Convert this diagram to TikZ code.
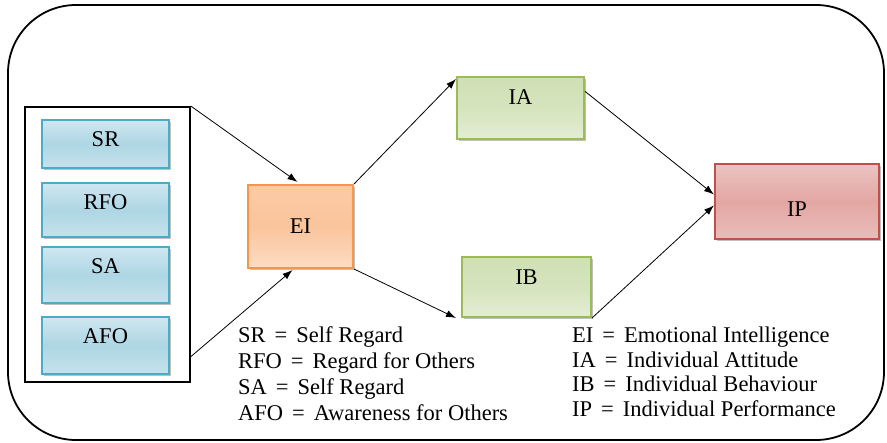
\documentclass[tikz,border=0pt]{standalone}
\usepackage{fontspec}
\setmainfont{Liberation Serif}
\usetikzlibrary{arrows.meta,calc,shadows}

\definecolor{blueEdge}{HTML}{4BACC6}
\definecolor{blueTop}{HTML}{CFE7F0}
\definecolor{blueMid}{HTML}{AED6E4}
\definecolor{blueBot}{HTML}{C6E2EC}
\definecolor{orangeEdge}{HTML}{F79646}
\definecolor{orangeTop}{HTML}{FBCBA6}
\definecolor{orangeMid}{HTML}{FAC49C}
\definecolor{orangeBot}{HTML}{FCDCC4}
\definecolor{greenEdge}{HTML}{9BBB59}
\definecolor{greenTop}{HTML}{D0E0B4}
\definecolor{greenMid}{HTML}{D5E4BD}
\definecolor{greenBot}{HTML}{E3EDD4}
\definecolor{redEdge}{HTML}{C0504D}
\definecolor{redTop}{HTML}{EAC4C2}
\definecolor{redMid}{HTML}{E3A7A3}
\definecolor{redBot}{HTML}{E9BDBA}

\newcommand\legeq{\hspace{0.4em}=\hspace{0.4em}}

\begin{document}
\begin{tikzpicture}[x=1pt,y=-1pt,
  font=\fontsize{22.5}{26}\selectfont,
  box/.style n args={3}{draw, line width=2pt, inner xsep=0pt, inner ysep=0pt,
    minimum height=#1, text height=#2, text depth=#3,
    drop shadow={shadow xshift=1.5pt, shadow yshift=-2pt, opacity=0.35, fill=black!70}},
  bluebox/.style={draw=blueEdge, top color=blueTop, bottom color=blueBot, middle color=blueMid, minimum width=127},
  orangebox/.style={draw=orangeEdge, top color=orangeTop, bottom color=orangeBot, middle color=orangeMid},
  greenbox/.style={draw=greenEdge, top color=greenTop, bottom color=greenBot, middle color=greenMid},
  redbox/.style={draw=redEdge, top color=redTop, bottom color=redBot, middle color=redMid},
  link/.style={line width=0.8pt, -{Latex[length=10pt,width=7pt]}},
  legend/.style={anchor=base west, inner sep=0pt}
]
\useasboundingbox (0,0) rectangle (887,443);
\fill[white] (0,0) rectangle (887,443);

% outer frame
\draw[line width=1.8pt, rounded corners=68pt] (8,5) rectangle (884,440);

% group of the four components
\node[draw, line width=1.8pt, fill=white, minimum width=165, minimum height=275, inner sep=0pt] (grp) at (107.5,244.5) {};

\node[box={48}{27}{21}, bluebox] (SR)  at (105.5,144)   {SR};
\node[box={54}{27}{27}, bluebox] (RFO) at (105.5,210)   {RFO};
\node[box={56}{27}{29}, bluebox] (SA)  at (105.5,275)   {SA};
\node[box={57}{27}{30}, bluebox] (AFO) at (105.5,345.5) {AFO};

% main constructs
\node[box={83}{48.5}{34.5}, orangebox, minimum width=105] (EI) at (300.5,226.5) {EI};
\node[box={62}{28}{34}, greenbox, minimum width=127] (IA) at (520.5,108) {IA};
\node[box={60}{28}{32}, greenbox, minimum width=129] (IB) at (526.5,287) {IB};
\node[box={75}{53}{22}, redbox, minimum width=164] (IP) at (797,201.5) {IP};

% connectors
\draw[link] (grp.north east) -- ([xshift=-3pt,yshift=2pt]EI.north);
\draw[link] ($(grp.north east)!0.905!(grp.south east)$) -- ([xshift=-8pt,yshift=-1pt]EI.south);
\draw[link] (EI.north east) -- ([yshift=-3pt]IA.north west);
\draw[link] (EI.south east) -- ([xshift=-5pt]IB.south west);
\draw[link] ($(IA.north east)!0.24!(IA.south east)$) -- ($(IP.north west)!0.41!(IP.south west)$);
\draw[link] (IB.south east) -- ($(IP.north west)!0.55!(IP.south west)$);

% legends
\node[legend] (l1) at (238,343) {SR\legeq Self Regard};
\node[legend] (l2) at (238,369) {RFO\legeq Regard for Others};
\node[legend] (l3) at (238,395) {SA\legeq Self Regard};
\node[legend] (l4) at (238,421) {AFO\legeq Awareness for Others};

\node[legend] (r1) at (572,343) {EI\legeq Emotional Intelligence};
\node[legend] (r2) at (572,367.5) {IA\legeq Individual Attitude};
\node[legend] (r3) at (572,392) {IB\legeq Individual Behaviour};
\node[legend] (r4) at (572,416.5) {IP\legeq Individual Performance};
\end{tikzpicture}
\end{document}
